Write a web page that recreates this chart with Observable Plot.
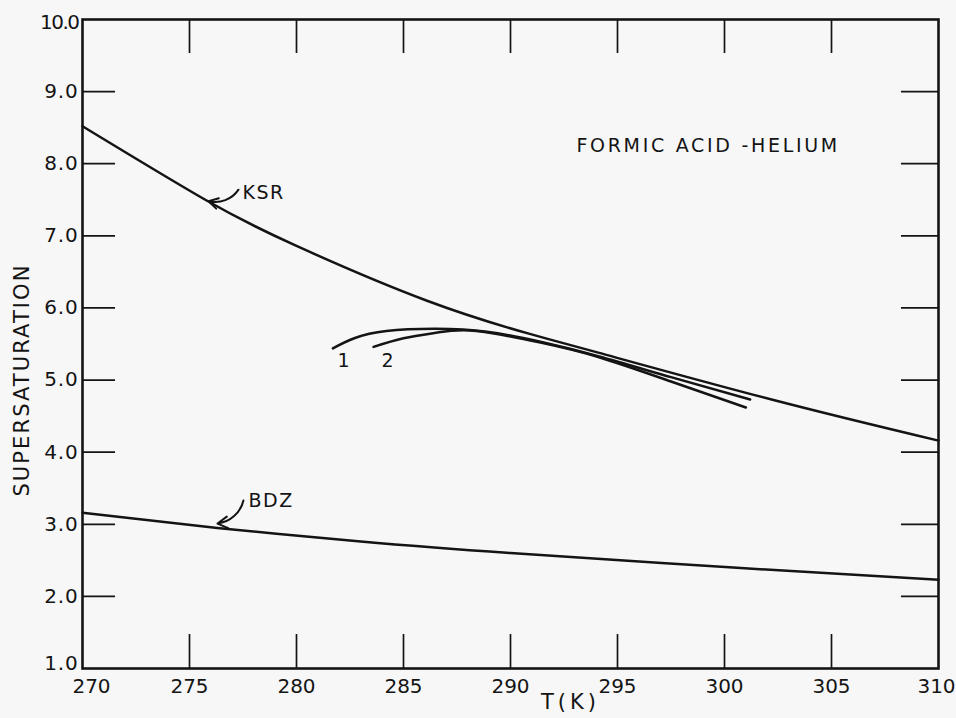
<!DOCTYPE html>
<html><head><meta charset="utf-8">
<script src="https://cdn.jsdelivr.net/npm/d3@7"></script>
<script src="https://cdn.jsdelivr.net/npm/@observablehq/plot@0.6"></script>
<style>
html,body{margin:0;padding:0;background:#f7f7f7;}
#chart{width:956px;height:718px;}
.ls-title text{letter-spacing:2.7px;}
.ls-curve text{letter-spacing:1.5px;}
.ls-ylab text{letter-spacing:2.1px;}
.ls-xlab text{letter-spacing:4px;}
.ls-tick text{letter-spacing:0.8px;}
.ls-ten text{letter-spacing:-1.5px;}
</style></head><body><div id="chart"></div>
<script>
// axis ticks
const xTicks = [270, 275, 280, 285, 290, 295, 300, 305, 310];
const yTicks = [1, 2, 3, 4, 5, 6, 7, 8, 9, 10];

// theory curves (T in K, supersaturation)
const ksrT = [270, 275.8, 280, 286.1, 290.9, 294.1, 302.2, 310];
const ksrS = [8.52, 7.49, 6.86, 6.10, 5.64, 5.38, 4.73, 4.16];
const bdzT = [270, 276.3, 283, 290, 300.4, 310];
const bdzS = [3.16, 2.95, 2.76, 2.60, 2.40, 2.23];

// experimental runs 1 and 2
const run1T = [281.7, 282.7, 284.2, 286.5, 288.9, 291.4, 294.1, 297.5, 301.2];
const run1S = [5.44, 5.58, 5.68, 5.71, 5.67, 5.53, 5.33, 5.04, 4.73];
const run2T = [283.6, 285.0, 286.6, 288.4, 291.4, 294.1, 297.5, 301.0];
const run2S = [5.46, 5.58, 5.66, 5.68, 5.52, 5.32, 4.98, 4.62];

// curve labels
const labelText = ["KSR", "BDZ"];
const labelT = [277.48, 277.76];
const labelS = [7.59, 3.33];
const runLabelText = ["1", "2"];
const runLabelT = [282.2, 284.25];
const runLabelS = [5.27, 5.27];

// label arrows (start near label, end on curve)
const arrowT1 = [277.29, 277.52];
const arrowS1 = [7.64, 3.33];
const arrowT2 = [275.89, 276.31];
const arrowS2 = [7.48, 3.01];

const titleText = ["FORMIC ACID -HELIUM"];
const titleT = [293.08];
const titleS = [8.25];

const xLabel = "T(K)";
const yLabel = "SUPERSATURATION";

const toPts = (T, S) => T.map((t, i) => ({T: t, S: S[i]}));
const ink = "#141414";
const font = "DejaVu Sans";
const fmtX = d3.format("d");
const fmtY = d3.format(".1f");

const chart = Plot.plot({
  width: 956,
  height: 718,
  marginLeft: 82,
  marginRight: 18,
  marginTop: 19,
  marginBottom: 50,
  x: {domain: [270, 310]},
  y: {domain: [1, 10]},
  style: {fontFamily: font, background: "transparent", color: ink, fontSize: "20px"},
  marks: [
    // inner ticks
    Plot.ruleX(xTicks.slice(1, -1), {x: d => d, insetTop: 649 - 34, stroke: ink, strokeWidth: 1.7}),
    Plot.ruleX(xTicks.slice(1, -1), {x: d => d, insetBottom: 649 - 34, stroke: ink, strokeWidth: 1.7}),
    Plot.ruleY(yTicks.slice(1, -1), {y: d => d, insetRight: 856 - 33, stroke: ink, strokeWidth: 1.7}),
    Plot.ruleY(yTicks.slice(1, -1), {y: d => d, insetLeft: 856 - 37, stroke: ink, strokeWidth: 1.7}),
    // x tick labels
    Plot.axisX(xTicks.slice(0, 1), {tickSize: 0, tickPadding: 10, dx: 9, tickFormat: fmtX, fontSize: 20, label: null, fill: ink}),
    Plot.axisX(xTicks.slice(1, -1), {tickSize: 0, tickPadding: 10, tickFormat: fmtX, fontSize: 20, label: null, fill: ink}),
    Plot.axisX(xTicks.slice(-1), {tickSize: 0, tickPadding: 10, dx: -2, tickFormat: fmtX, fontSize: 20, label: null, fill: ink}),
    // y tick labels
    Plot.axisY(yTicks.slice(0, 1), {tickSize: 0, tickPadding: 4, dy: -5, tickFormat: fmtY, fontSize: 20, label: null, fill: ink, className: "ls-tick"}),
    Plot.axisY(yTicks.slice(1, -1), {tickSize: 0, tickPadding: 4, tickFormat: fmtY, fontSize: 20, label: null, fill: ink, className: "ls-tick"}),
    Plot.axisY(yTicks.slice(-1), {tickSize: 0, tickPadding: 4, dy: 3, tickFormat: fmtY, fontSize: 20, label: null, fill: ink, className: "ls-ten"}),
    Plot.frame({stroke: ink, strokeWidth: 2.6}),
    Plot.line(toPts(ksrT, ksrS), {x: "T", y: "S", curve: "natural", stroke: ink, strokeWidth: 2.5}),
    Plot.line(toPts(bdzT, bdzS), {x: "T", y: "S", curve: "natural", stroke: ink, strokeWidth: 2.5}),
    Plot.line(toPts(run1T, run1S), {x: "T", y: "S", curve: "natural", stroke: ink, strokeWidth: 2.5}),
    Plot.line(toPts(run2T, run2S), {x: "T", y: "S", curve: "natural", stroke: ink, strokeWidth: 2.5}),
    Plot.arrow(arrowT1.map((t, i) => i), {
      x1: i => arrowT1[i], y1: i => arrowS1[i], x2: i => arrowT2[i], y2: i => arrowS2[i],
      bend: 35, headLength: 9, stroke: ink, strokeWidth: 2
    }),
    Plot.text(labelText, {x: (d, i) => labelT[i], y: (d, i) => labelS[i], text: d => d, textAnchor: "start", fontSize: 19, fill: ink, className: "ls-curve"}),
    Plot.text(runLabelText, {x: (d, i) => runLabelT[i], y: (d, i) => runLabelS[i], text: d => d, textAnchor: "middle", fontSize: 19, fill: ink}),
    Plot.text(titleText, {x: (d, i) => titleT[i], y: (d, i) => titleS[i], text: d => d, textAnchor: "start", fontSize: 19, fill: ink, className: "ls-title"}),
    Plot.text([yLabel], {frameAnchor: "left", textAnchor: "middle", dx: -60, dy: 36, rotate: -90, text: d => d, fontSize: 21, fill: ink, className: "ls-ylab"}),
    Plot.text([xLabel], {frameAnchor: "bottom", textAnchor: "middle", dx: 60, dy: 40, text: d => d, fontSize: 21, fill: ink, className: "ls-xlab"})
  ]
});
document.getElementById("chart").appendChild(chart);
</script>
</body></html>
